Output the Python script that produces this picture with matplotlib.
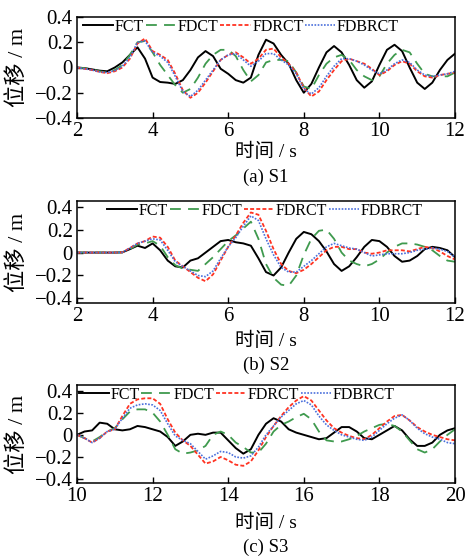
import numpy as np
import matplotlib
matplotlib.use("Agg")
from matplotlib import pyplot as plt

plt.rcParams['font.family'] = ['Liberation Serif', 'Noto Sans CJK SC']

# %% data (0.2 s grid)
t_s1 = np.arange(2.0, 12.001, 0.2)
t_s2 = np.arange(2.0, 12.001, 0.2)
t_s3 = np.arange(10.0, 20.001, 0.2)

s1_fct = [0, -0.005, -0.015, -0.025, -0.03, 0.0, 0.04, 0.10, 0.16, 0.07,
          -0.08, -0.115, -0.12, -0.13, -0.10, -0.02, 0.08, 0.13, 0.09, -0.01,
          -0.05, -0.10, -0.12, -0.08, 0.10, 0.22, 0.19, 0.10, 0.03, -0.10,
          -0.20, -0.13, 0.00, 0.12, 0.17, 0.12, 0.02, -0.10, -0.16, -0.11,
          0.02, 0.14, 0.18, 0.13, 0.00, -0.12, -0.17, -0.12, -0.02, 0.06, 0.11]
s1_fdct = [0, -0.005, -0.015, -0.03, -0.04, -0.02, 0.02, 0.10, 0.20, 0.21,
           0.12, 0.02, -0.06, -0.14, -0.20, -0.17, -0.08, 0.03, 0.10, 0.14,
           0.14, 0.09, -0.02, -0.11, -0.06, 0.04, 0.06, 0.06, 0.05, -0.04,
           -0.15, -0.17, -0.06, 0.03, 0.08, 0.10, 0.06, -0.02, -0.07, -0.10,
           -0.07, 0.03, 0.10, 0.14, 0.12, 0.03, -0.05, -0.07, -0.07, -0.07, -0.04]
s1_fdrct = [0, -0.01, -0.02, -0.035, -0.045, -0.03, 0.0, 0.07, 0.19, 0.23,
            0.13, 0.10, 0.06, -0.05, -0.18, -0.24, -0.20, -0.12, -0.03, 0.06,
            0.10, 0.12, 0.08, 0.03, 0.07, 0.14, 0.15, 0.08, 0.03, -0.04,
            -0.16, -0.23, -0.19, -0.10, -0.02, 0.05, 0.07, 0.05, 0.03, -0.01,
            -0.06, -0.03, 0.02, 0.05, 0.03, -0.03, -0.07, -0.08, -0.06, -0.05, -0.04]
s1_fdbrct = [0, -0.01, -0.02, -0.035, -0.04, -0.025, 0.01, 0.08, 0.20, 0.21,
             0.12, 0.09, 0.04, -0.07, -0.19, -0.23, -0.18, -0.10, -0.02, 0.06,
             0.10, 0.11, 0.06, 0.01, 0.05, 0.11, 0.11, 0.06, 0.02, -0.05,
             -0.17, -0.21, -0.16, -0.07, 0.01, 0.07, 0.07, 0.05, 0.02, -0.02,
             -0.05, -0.02, 0.03, 0.06, 0.04, -0.02, -0.06, -0.07, -0.06, -0.05, -0.03]

s2_fct = [0, 0, 0, 0, 0, 0, 0.002, 0.03, 0.06, 0.04,
          0.08, 0.02, -0.07, -0.12, -0.13, -0.07, -0.05, 0.0, 0.05, 0.10,
          0.11, 0.09, 0.08, 0.06, -0.05, -0.17, -0.20, -0.13, 0.0, 0.12,
          0.18, 0.16, 0.10, 0.01, -0.10, -0.16, -0.12, -0.04, 0.05, 0.11,
          0.10, 0.05, -0.03, -0.08, -0.07, -0.03, 0.03, 0.05, 0.04, 0.02, -0.04]
s2_fdct = [0, 0, 0, 0, 0, 0, 0.002, 0.03, 0.07, 0.08,
           0.10, 0.06, -0.04, -0.11, -0.14, -0.15, -0.16, -0.10, -0.04, 0.03,
           0.10, 0.15, 0.21, 0.27, 0.12, -0.10, -0.22, -0.28, -0.29, -0.20,
           -0.02, 0.12, 0.19, 0.20, 0.12, 0.0, -0.07, -0.10, -0.12, -0.10,
           -0.06, 0.0, 0.05, 0.08, 0.08, 0.07, 0.05, 0.02, -0.03, -0.07, -0.08]
s2_fdrct = [0, 0, 0, 0, 0, 0, 0.002, 0.04, 0.08, 0.10,
            0.14, 0.13, 0.05, -0.07, -0.12, -0.17, -0.22, -0.25, -0.19, -0.07,
            0.05, 0.15, 0.26, 0.35, 0.33, 0.19, 0.03, -0.10, -0.16, -0.18,
            -0.15, -0.10, -0.04, 0.02, 0.05, 0.05, 0.03, 0.03, 0.0, -0.01,
            0.0, 0.02, 0.02, 0.02, 0.01, 0.03, 0.05, 0.04, 0.01, -0.03, -0.06]
s2_fdbrct = [0, 0, 0, 0, 0, 0, 0.002, 0.04, 0.08, 0.10,
             0.12, 0.11, 0.02, -0.08, -0.12, -0.16, -0.20, -0.21, -0.16, -0.05,
             0.05, 0.13, 0.23, 0.32, 0.28, 0.12, -0.02, -0.13, -0.17, -0.17,
             -0.12, -0.07, -0.01, 0.05, 0.08, 0.06, 0.04, 0.03, 0.0, -0.03,
             -0.02, -0.01, -0.01, -0.01, 0.0, 0.02, 0.03, 0.04, 0.03, 0.01, -0.04]

s3_fct = [0.0, 0.03, 0.04, 0.11, 0.10, 0.05, 0.04, 0.05, 0.08, 0.07,
          0.05, 0.03, -0.02, -0.10, -0.06, 0.0, 0.01, 0.0, 0.02, 0.02,
          -0.05, -0.12, -0.17, -0.13, 0.0, 0.10, 0.15, 0.12, 0.05, 0.02,
          0.0, -0.02, -0.04, -0.03, 0.02, 0.07, 0.07, 0.03, -0.03, -0.04,
          0.0, 0.04, 0.08, 0.04, -0.04, -0.10, -0.10, -0.07, 0.0, 0.04, 0.06]
s3_fdct = [0.0, -0.03, -0.06, -0.02, 0.03, 0.06, 0.14, 0.21, 0.23, 0.23,
           0.20, 0.12, 0.0, -0.13, -0.17, -0.16, -0.14, -0.10, 0.0, 0.03,
           0.0, -0.07, -0.11, -0.16, -0.16, -0.08, 0.03, 0.09, 0.12, 0.16,
           0.19, 0.14, 0.03, -0.05, -0.06, -0.06, -0.04, -0.01, 0.03, 0.06,
           0.09, 0.10, 0.08, 0.03, -0.05, -0.13, -0.16, -0.13, -0.06, 0.0, 0.05]
s3_fdrct = [0.0, -0.03, -0.07, -0.03, 0.03, 0.05, 0.17, 0.28, 0.32, 0.33,
            0.33, 0.28, 0.14, 0.02, -0.05, -0.10, -0.18, -0.26, -0.24, -0.20,
            -0.23, -0.27, -0.28, -0.24, -0.14, -0.02, 0.08, 0.17, 0.25, 0.31,
            0.35, 0.31, 0.22, 0.13, 0.06, 0.02, -0.01, -0.03, -0.04, 0.0,
            0.06, 0.12, 0.17, 0.18, 0.13, 0.07, 0.03, 0.0, -0.02, -0.04, -0.05]
s3_fdbrct = [0.0, -0.03, -0.07, -0.03, 0.03, 0.05, 0.15, 0.24, 0.27, 0.28,
             0.27, 0.22, 0.10, -0.01, -0.05, -0.08, -0.15, -0.22, -0.19, -0.15,
             -0.16, -0.20, -0.21, -0.19, -0.11, 0.0, 0.08, 0.16, 0.22, 0.28,
             0.31, 0.27, 0.17, 0.09, 0.04, 0.0, -0.02, -0.04, -0.05, -0.02,
             0.04, 0.10, 0.15, 0.18, 0.13, 0.06, 0.01, -0.02, -0.04, -0.07, -0.08]

labels = ['FCT', 'FDCT', 'FDRCT', 'FDBRCT']
captions = ['(a) S1', '(b) S2', '(c) S3']

# %% styles
styles = [
    dict(color='black', lw=1.4, ls='-'),
    dict(color='#3f9a4e', lw=1.3, ls=(0, (6, 4))),
    dict(color='#ff3322', lw=1.3, ls=(0, (2.2, 1.2))),
    dict(color='#4a6fdc', lw=1.2, ls=(0, (1, 0.9))),
]

W, H = 468, 556
fig = plt.figure(figsize=(W / 100, H / 100), dpi=100)

# axes boxes in pixels: (top, bottom)
boxes = [(17, 118), (201, 303), (385, 483)]
ylims = [(-0.4, 0.4), (-0.44, 0.45), (-0.435, 0.45)]
xlims = [(2, 12), (2, 12), (10, 20)]
leg_x = [0.012, 0.075, 0.0]
xlab_y = [152, 341, 523]
cap_y = [177, 365, 547]
panels = [
    (t_s1, [s1_fct, s1_fdct, s1_fdrct, s1_fdbrct]),
    (t_s2, [s2_fct, s2_fdct, s2_fdrct, s2_fdbrct]),
    (t_s3, [s3_fct, s3_fdct, s3_fdrct, s3_fdbrct]),
]

left, right = 77, 455
for i, (t, series) in enumerate(panels):
    top, bot = boxes[i]
    ax = fig.add_axes([left / W, 1 - bot / H, (right - left) / W, (bot - top) / H])
    for ys, lab, st in zip(series, labels, styles):
        ax.plot(t, ys, label=lab, solid_joinstyle='round', **st)
    ax.set_xlim(*xlims[i])
    ax.set_ylim(*ylims[i])
    ax.set_xticks(np.arange(xlims[i][0], xlims[i][1] + 0.1, 2))
    ax.set_yticks([-0.4, -0.2, 0, 0.2, 0.4])
    ax.set_yticklabels(['\u22120.4', '\u22120.2', '0', '0.2', '0.4'])
    ax.tick_params(direction='in', length=4, width=1, labelsize=15, pad=3)
    for sp in ax.spines.values():
        sp.set_linewidth(1.1)
    ax.set_ylabel('位移 / m', fontsize=16)
    ax.yaxis.set_label_coords(-0.130, 0.5)
    fig.text(266 / W, 1 - xlab_y[i] / H, '时间 / s', fontsize=14, ha='center', va='center')
    fig.text(266 / W, 1 - cap_y[i] / H, captions[i], fontsize=13.5, ha='center', va='center')
    ax.legend(loc='upper left', bbox_to_anchor=(leg_x[i], 1.0), ncol=4, frameon=False,
              fontsize=11.5, handlelength=1.9, handletextpad=0.1, columnspacing=0.1,
              borderpad=0.1, borderaxespad=0)

fig.savefig('out.png', dpi=100)
